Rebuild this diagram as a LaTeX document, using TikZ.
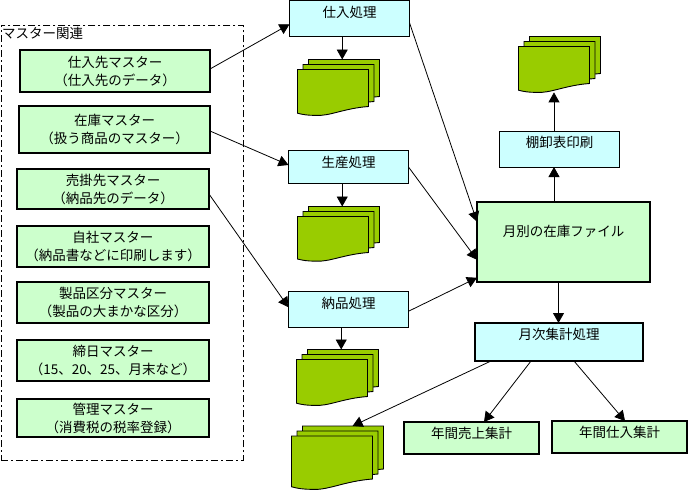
\documentclass[tikz,border=0pt]{standalone}
\usepackage{fontspec}
\setmainfont{Noto Sans CJK JP}
\usetikzlibrary{arrows.meta}
\definecolor{mastergreen}{HTML}{CCFFCC}
\definecolor{proccyan}{HTML}{CCFFFF}
\definecolor{docgreen}{HTML}{99CC00}
\tikzset{
    boxtext/.style = {font=\fontsize{13.5}{18}\selectfont, inner sep=0pt, outer sep=0pt, align=center, anchor=north west},
    masterbox/.style = {boxtext, draw, line width=2pt, fill=mastergreen},
    procbox/.style = {boxtext, draw, line width=0.9pt, fill=proccyan, text height=16pt, text depth=#1},
    procbold/.style = {procbox=#1, line width=2pt},
    totalbox/.style = {procbold=#1, fill=mastergreen},
    groupbox/.style = {draw, line width=0.8pt, dash pattern=on 7pt off 3pt on 2pt off 3pt, inner sep=0pt, anchor=north west},
    link/.style = {line width=0.8pt, -{Triangle[length=10pt,width=11pt]}},
    docsheet/.style = {draw, line width=0.9pt, fill=docgreen}
}
% name, left, top, width, height of the front sheet
\newcommand{\docstack}[5]{
    \foreach \dx/\dy in {11/-10, 5.5/-5, 0/0}
        \draw[docsheet, shift={(#2+\dx,#3+\dy)}] (0,0) -- (#4,0) -- (#4,#5)
            .. controls ({0.65*#4},{1.05*#5}) and ({0.45*#4},{1.27*#5}) .. ({0.25*#4},{1.24*#5})
            .. controls ({0.15*#4},{1.24*#5}) and ({0.07*#4},{1.22*#5}) .. (0,{1.18*#5}) -- cycle;
    \coordinate (#1top) at ({#2+0.63*#4},#3-10);
    \coordinate (#1bot) at ({#2+0.5*#4},{#3+1.24*#5});
}
\begin{document}
\begin{tikzpicture}[x=1pt, y=-1pt]
    \useasboundingbox (0,0) rectangle (688,491);

    % Master group:
    \node[groupbox, minimum width=242pt, minimum height=435.5pt] (group) at (0.5,24.5) {};
    \node[boxtext] (grouptitle) at (2,27.5) {マスター関連};

    \node[masterbox, minimum width=190pt, minimum height=42pt] (supplier) at (20,50) {仕入先マスター\\（仕入先のデータ）};
    \node[masterbox, minimum width=191pt, minimum height=47pt] (stock) at (19,106) {在庫マスター\\（扱う商品のマスター）};
    \node[masterbox, minimum width=192pt, minimum height=40pt] (customer) at (17,169) {売掛先マスター\\（納品先のデータ）};
    \node[masterbox, minimum width=192pt, minimum height=41pt] (company) at (17,226) {自社マスター\\（納品書などに印刷します）};
    \node[masterbox, minimum width=192pt, minimum height=41pt] (category) at (17,282) {製品区分マスター\\（製品の大まかな区分）};
    \node[masterbox, minimum width=192pt, minimum height=41pt] (closing) at (17,340) {締日マスター\\（15、20、25、月末など）};
    \node[masterbox, minimum width=192pt, minimum height=38pt] (admin) at (17,399) {管理マスター\\（消費税の税率登録）};

    % Processes:
    \node[procbox=18.5pt, text height=17pt, minimum width=120pt] (purchase) at (289.5,0.5) {仕入処理};
    \node[procbox=16pt, text height=17pt, minimum width=120pt] (produce) at (288.5,150.5) {生産処理};
    \node[procbox=18.5pt, text height=17pt, minimum width=120pt] (deliver) at (288.5,291.5) {納品処理};
    \node[procbox=19.5pt, minimum width=120pt] (inventory) at (499.5,131.5) {棚卸表印刷};
    \node[totalbox=63.5pt, minimum width=173pt, text height=34pt, text depth=45.5pt] (monthfile) at (477,202) {月別の在庫ファイル};
    \node[procbold=22pt, minimum width=168pt] (monthsum) at (475,323) {月次集計処理};
    \node[totalbox=16pt, minimum width=135pt] (yearsales) at (404,422) {年間売上集計};
    \node[totalbox=16pt, minimum width=135pt] (yearbuy) at (552,421) {年間仕入集計};

    % Documents:
    \docstack{docbuy}{297.5}{69.5}{71}{37}
    \docstack{docmake}{297.5}{216.5}{71}{36}
    \docstack{docship}{296.5}{359.5}{71}{37}
    \docstack{docsum}{291.5}{436}{81}{43}
    \docstack{docinv}{518.5}{46.5}{71}{37}

    % Connectors:
    \draw[link] ([yshift=2pt]supplier.east) -- ([yshift=-6pt]purchase.west);
    \draw[link] ([yshift=-1.5pt]stock.east) -- ([yshift=2pt]produce.west);
    \draw[link] ([yshift=-5pt]customer.east) -- ([yshift=2pt]deliver.west);

    \draw[link] ([yshift=-4.5pt]purchase.east) -- ([yshift=20pt]monthfile.west);
    \draw[link] ([yshift=0pt]produce.east) -- ([yshift=-18pt]monthfile.west);
    \draw[link] ([yshift=-2pt]deliver.east) -- ([yshift=-36pt]monthfile.west);

    \draw[link] (docbuytop |- purchase.south) -- (docbuytop);
    \draw[link] (docmaketop |- produce.south) -- (docmaketop);
    \draw[link] (docshiptop |- deliver.south) -- (docshiptop);

    \draw[link] (docinvbot |- monthfile.north) -- (docinvbot |- inventory.south);
    \draw[link] (docinvbot |- inventory.north) -- (docinvbot);

    \draw[link] ([xshift=-0.5pt]monthsum.north |- monthfile.south) -- ([xshift=-0.5pt]monthsum.north);
    \draw[link] ([xshift=-68pt]monthsum.south) -- ([xshift=10pt]docsumtop);
    \draw[link] ([xshift=-28pt]monthsum.south) -- ([xshift=12.5pt]yearsales.north);
    \draw[link] ([xshift=15pt]monthsum.south) -- ([xshift=5.5pt]yearbuy.north);
\end{tikzpicture}
\end{document}
